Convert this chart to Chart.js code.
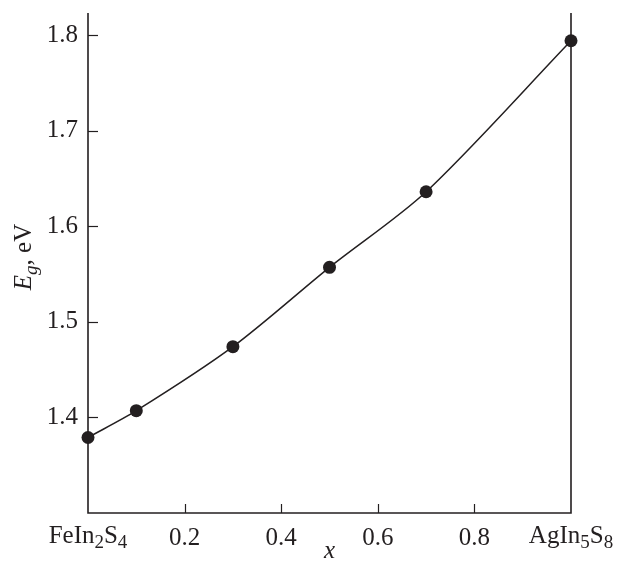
<!DOCTYPE html>
<html>
<head>
<meta charset="utf-8">
<script src="https://cdn.jsdelivr.net/npm/chart.js@4"></script>
<style>
  html, body { margin: 0; padding: 0; background: #fff; }
</style>
</head>
<body>
<canvas id="eg_chart" width="621" height="563"></canvas>
<script>
// composition x (FeIn2S4 -> AgIn5S8) and band gap Eg, eV
const x_values = [0, 0.1, 0.3, 0.5, 0.7, 1.0];
const eg_values = [1.379, 1.407, 1.474, 1.557, 1.636, 1.794];
const y_tick_values = [1.4, 1.5, 1.6, 1.7, 1.8];
const x_tick_values = [0.2, 0.4, 0.6, 0.8];

const ink = '#231f20';
const serif = '"Times New Roman", "Liberation Serif", Times, serif';
const main_size = 25;
const sub_size = 19;

// draws a formula like FeIn2S4 with subscripted digits, centered on cx
function draw_formula(ctx, parts, cx, y) {
  let total = 0;
  parts.forEach(p => {
    ctx.font = (p.sub ? sub_size : main_size) + 'px ' + serif;
    total += ctx.measureText(p.t).width;
  });
  let px = cx - total / 2;
  parts.forEach(p => {
    ctx.font = (p.sub ? sub_size : main_size) + 'px ' + serif;
    ctx.fillText(p.t, px, p.sub ? y + 5 : y);
    px += ctx.measureText(p.t).width;
  });
}

const frame_plugin = {
  id: 'frame_plugin',
  afterDraw(chart) {
    const ctx = chart.ctx;
    const area = chart.chartArea;
    const xs = chart.scales.x;
    const ys = chart.scales.y;
    ctx.save();
    ctx.strokeStyle = ink;
    ctx.fillStyle = ink;

    // left, bottom and right axis lines (no top line)
    ctx.lineWidth = 1.6;
    ctx.beginPath();
    ctx.moveTo(area.left, area.top);
    ctx.lineTo(area.left, area.bottom);
    ctx.lineTo(area.right, area.bottom);
    ctx.lineTo(area.right, area.top);
    ctx.stroke();

    // inward tick marks
    ctx.lineWidth = 1.2;
    y_tick_values.forEach(v => {
      const py = Math.round(ys.getPixelForValue(v)) + 0.5;
      ctx.beginPath();
      ctx.moveTo(area.left, py);
      ctx.lineTo(area.left + 10, py);
      ctx.stroke();
    });
    x_tick_values.forEach(v => {
      const px = Math.round(xs.getPixelForValue(v)) + 0.5;
      ctx.beginPath();
      ctx.moveTo(px, area.bottom);
      ctx.lineTo(px, area.bottom - 9);
      ctx.stroke();
    });

    // end labels with subscripts
    ctx.textBaseline = 'alphabetic';
    ctx.textAlign = 'left';
    const label_y = area.bottom + 30;
    draw_formula(ctx, [{t: 'FeIn'}, {t: '2', sub: true}, {t: 'S'}, {t: '4', sub: true}],
      xs.getPixelForValue(0), label_y);
    draw_formula(ctx, [{t: 'AgIn'}, {t: '5', sub: true}, {t: 'S'}, {t: '8', sub: true}],
      xs.getPixelForValue(1), label_y);

    // x axis title
    ctx.font = 'italic ' + main_size + 'px ' + serif;
    ctx.textAlign = 'center';
    ctx.fillText('x', xs.getPixelForValue(0.5), chart.height - 5);

    // y axis title: E_g, eV
    ctx.translate(31, 257);
    ctx.rotate(-Math.PI / 2);
    const parts = [
      {t: 'E', f: 'italic ' + main_size + 'px '},
      {t: 'g', f: 'italic ' + sub_size + 'px ', dy: 6},
      {t: ', eV', f: main_size + 'px '}
    ];
    let total = 0;
    parts.forEach(p => { ctx.font = p.f + serif; total += ctx.measureText(p.t).width; });
    let px = -total / 2;
    ctx.textAlign = 'left';
    parts.forEach(p => {
      ctx.font = p.f + serif;
      ctx.fillText(p.t, px, p.dy || 0);
      px += ctx.measureText(p.t).width;
    });
    ctx.restore();
  }
};

const ctx = document.getElementById('eg_chart').getContext('2d');

new Chart(ctx, {
  type: 'line',
  data: {
    datasets: [{
      data: x_values.map((x, i) => ({x: x, y: eg_values[i]})),
      borderColor: ink,
      backgroundColor: ink,
      borderWidth: 1.5,
      pointRadius: 6.5,
      pointBackgroundColor: ink,
      pointBorderWidth: 0,
      tension: 0.3,
      clip: false
    }]
  },
  options: {
    responsive: false,
    animation: false,
    events: [],
    layout: { padding: { top: 13, right: 50, left: 0, bottom: 0 } },
    plugins: {
      legend: { display: false },
      tooltip: { enabled: false }
    },
    scales: {
      x: {
        type: 'linear',
        min: 0,
        max: 1,
        afterFit(scale) {
          scale.height = 50;
          scale.paddingLeft = 0;
          scale.paddingRight = 0;
        },
        grid: { display: false, drawTicks: false },
        border: { display: false },
        ticks: {
          stepSize: 0.2,
          padding: 10,
          maxRotation: 0,
          autoSkip: false,
          color: ink,
          font: { family: serif, size: main_size },
          callback: v => (v <= 0.001 || v >= 0.999) ? '' : v.toFixed(1)
        }
      },
      y: {
        type: 'linear',
        min: 1.3,
        max: 1.823,
        afterFit(scale) {
          scale.width = 88;
          scale.paddingTop = 0;
          scale.paddingBottom = 0;
        },
        grid: { display: false, drawTicks: false },
        border: { display: false },
        ticks: {
          stepSize: 0.1,
          padding: 10,
          autoSkip: false,
          color: ink,
          font: { family: serif, size: main_size },
          callback: v => (v < 1.35 ? '' : v.toFixed(1))
        },
        afterBuildTicks(scale) {
          scale.ticks = [1.3].concat(y_tick_values).map(v => ({value: v}));
        }
      }
    }
  },
  plugins: [frame_plugin]
});
</script>
</body>
</html>
